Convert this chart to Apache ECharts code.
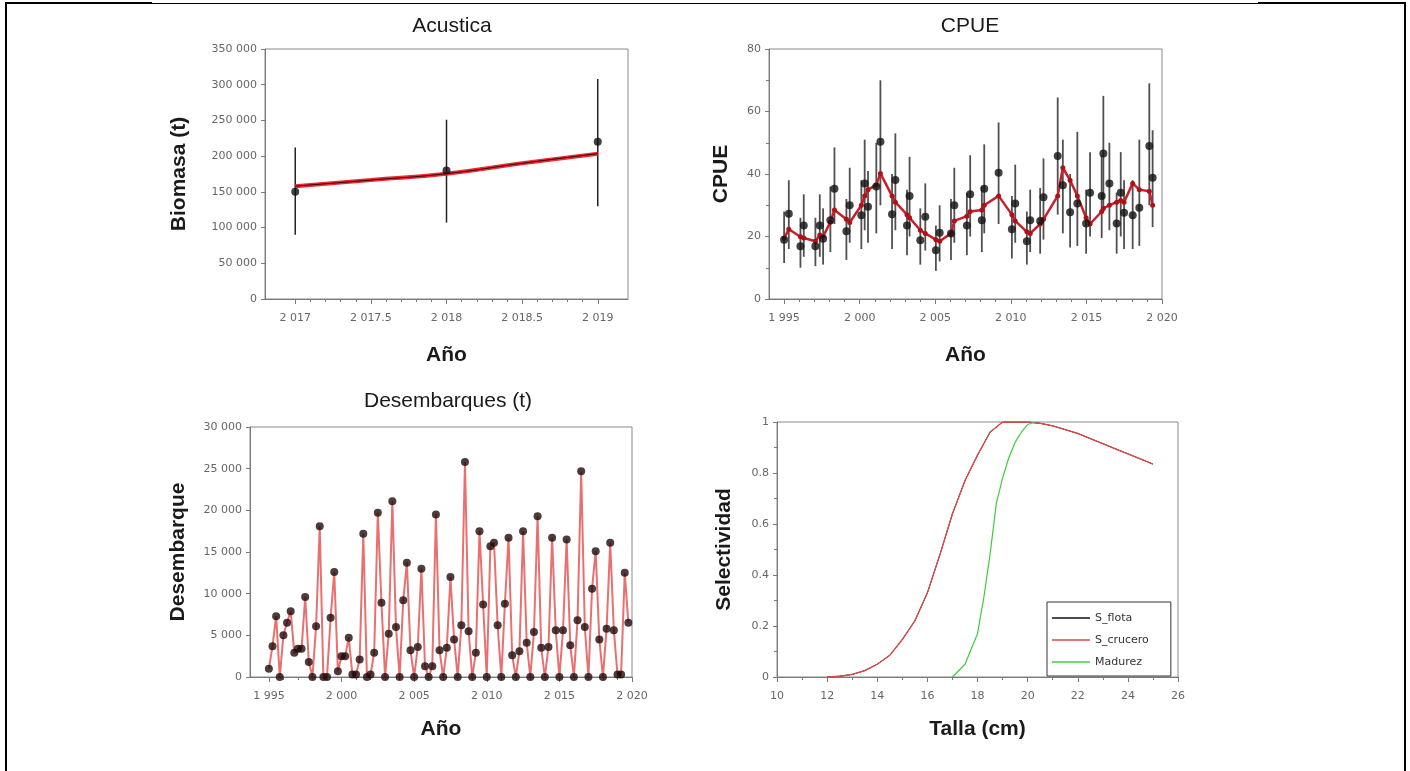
<!DOCTYPE html>
<html><head><meta charset="utf-8">
<script src="https://cdn.jsdelivr.net/npm/echarts@6/dist/echarts.min.js"></script>
<style>html,body{margin:0;padding:0;background:#fff}#c{width:1410px;height:771px}</style>
</head><body><div id="c"></div><script>
// ---------- Acustica ----------
const acYears = [2017, 2018, 2019];
const acBiomasa = [150000, 180000, 220000];
const acLow = [90000, 107000, 130000];
const acHigh = [212000, 251000, 308000];
const acFitYears = [2017, 2017.5, 2018, 2018.5, 2019];
const acFit = [158000, 166500, 175500, 190000, 203500];

// ---------- CPUE ----------
const cpueYear = [1995.00,1995.31,1996.08,1996.30,1997.07,1997.36,1997.58,1998.06,1998.33,1999.12,1999.34,2000.11,2000.33,2000.55,2001.10,2001.37,2002.14,2002.36,2003.13,2003.30,2004.01,2004.34,2005.04,2005.29,2006.04,2006.26,2007.09,2007.31,2008.08,2008.24,2009.19,2010.07,2010.29,2011.06,2011.28,2011.94,2012.16,2013.10,2013.44,2013.92,2014.40,2014.98,2015.24,2016.01,2016.12,2016.52,2017.00,2017.27,2017.49,2018.06,2018.50,2019.16,2019.38];
const cpueObs = [19.0,27.3,16.9,23.5,16.9,23.5,19.3,25.2,35.3,21.7,30.0,26.8,37.0,29.5,36.0,50.3,27.1,38.1,23.5,33.0,18.8,26.3,15.6,21.2,21.0,30.0,23.5,33.5,25.2,35.3,40.4,22.3,30.6,18.5,25.2,25.0,32.6,45.8,36.4,27.8,30.6,24.2,34.0,33.0,46.6,37.0,24.2,34.0,27.6,26.8,29.2,49.0,38.8];
const cpueLow = [11.5,16.0,10.0,13.5,10.5,13.5,11.0,15.0,24.0,12.5,18.0,16.0,22.0,18.0,21.0,30.0,16.0,22.0,14.0,20.0,11.0,15.5,9.0,12.0,12.5,18.0,14.0,20.0,15.0,21.0,24.0,13.0,18.0,11.0,15.0,14.5,19.0,27.0,21.0,16.5,17.0,14.5,20.0,19.5,28.0,22.0,14.5,20.0,16.0,16.0,17.0,30.0,23.0];
const cpueHigh = [28.0,38.0,26.0,33.5,26.0,33.5,29.0,36.0,48.5,32.0,42.0,38.0,51.0,41.0,50.0,70.0,40.0,53.0,35.0,45.5,29.0,37.0,23.5,30.0,32.0,42.0,34.0,46.0,36.0,49.5,56.5,33.0,43.0,28.0,35.0,35.5,45.0,64.5,51.0,40.0,53.5,35.0,47.0,46.0,65.0,50.0,34.0,47.0,38.0,38.0,51.0,69.0,54.0];
const cpueFit = [19.5,22.3,19.9,19.5,18.5,20.5,20.0,24.6,28.5,25.5,24.5,30.0,33.0,35.0,36.5,40.2,33.0,31.0,27.0,26.0,22.0,21.0,19.0,18.5,21.0,25.0,26.5,28.0,28.5,30.0,33.0,27.0,25.0,21.5,21.0,24.0,25.5,33.0,42.0,38.0,33.0,26.0,24.0,28.0,29.0,30.0,31.0,31.5,31.0,37.0,35.0,34.5,30.0];

// ---------- Desembarques (quarterly, from 1995.00 by 0.25) ----------
const deseStart = 1995;
const deseStep = 0.25;
const deseVal = [
 1000,3700,7300,0,      5000,6500,7900,2900,   3400,3400,9600,1800,   0,6100,18100,0,
 0,7100,12600,700,      2500,2500,4700,300,    300,2100,17200,0,      300,2900,19700,8900,
 0,5200,21100,6000,     0,9200,13700,3200,     0,3600,13000,1300,     0,1300,19500,3200,
 0,3500,12000,4500,     0,6200,25800,5500,     0,2900,17500,8700,     0,15700,16100,6200,
 0,8800,16700,2600,     0,3100,17500,4100,     0,5400,19300,3500,     0,3600,16700,5600,
 0,5600,16500,3800,     0,6800,24700,6000,     0,10600,15100,4500,    0,5800,16100,5600,
 300,300,12500,6500
];

// ---------- Selectividad ----------
const selTalla = [12,12.5,13,13.5,14,14.5,15,15.5,16,16.5,17,17.5,18,18.5,19,19.5,20,20.5,21,21.5,22,22.5,23,23.5,24,24.5,25];
const selFlota = [0,0.003,0.01,0.025,0.05,0.085,0.147,0.22,0.33,0.48,0.64,0.77,0.87,0.96,1.0,1.0,1.0,0.995,0.985,0.97,0.955,0.935,0.915,0.895,0.875,0.855,0.835];
const selCrucero = [0,0.003,0.01,0.025,0.05,0.085,0.147,0.22,0.33,0.48,0.64,0.77,0.87,0.96,1.0,1.0,1.0,0.995,0.985,0.97,0.955,0.935,0.915,0.895,0.875,0.855,0.835];
const madTalla = [17,17.5,18,18.25,18.5,18.75,19,19.25,19.5,19.75,20,20.3];
const madurez = [0,0.05,0.17,0.31,0.48,0.68,0.78,0.86,0.92,0.96,0.99,1.0];

// ---------- helpers ----------
function fmt(v){
  let s = String(Math.round(v*1000)/1000);
  let parts = s.split('.');
  let ip = parts[0].replace(/\B(?=(\d{3})+(?!\d))/g, ' ');
  return ip + (parts[1] ? '.' + parts[1] : '');
}
const tickFont = {fontFamily:'DejaVu Sans', fontSize:11, color:'#666'};
const nameFont = {fontFamily:'Liberation Sans', fontSize:21, fontWeight:'bold', color:'#1a1a1a'};
const axisCol = '#7a7a7a';
function errRender(color, w){
  return function(params, api){
    const x = api.value(0), lo = api.value(1), hi = api.value(2);
    const p1 = api.coord([x, lo]), p2 = api.coord([x, hi]);
    return {type:'line', shape:{x1:p1[0], y1:p1[1], x2:p2[0], y2:p2[1]}, style:{stroke:color, lineWidth:w}};
  };
}
function mainX(grid, min, max, name, gap){
  return {type:'value', gridIndex:grid, min:min, max:max,
    axisLine:{show:true, lineStyle:{color:axisCol}}, axisTick:{show:false}, axisLabel:{show:false},
    splitLine:{show:false}, name:name, nameLocation:'middle', nameGap:gap, nameTextStyle:nameFont};
}
function tickX(grid, min, max, interval, split){
  return {type:'value', gridIndex:grid, min:min, max:max, interval:interval,
    axisLine:{show:false}, axisTick:{show:true, length:5, lineStyle:{color:axisCol}},
    minorTick:{show:true, splitNumber:split, length:3, lineStyle:{color:axisCol}},
    axisLabel:Object.assign({formatter:fmt, margin:14}, tickFont), splitLine:{show:false}};
}
function mainY(grid, min, max, interval, name, gap, minor, formatter){
  return {type:'value', gridIndex:grid, min:min, max:max, interval:interval,
    axisLine:{show:true, lineStyle:{color:axisCol}}, axisTick:{show:true, length:4, lineStyle:{color:axisCol}},
    minorTick:{show:!!minor, splitNumber:minor||5, length:3, lineStyle:{color:axisCol}},
    axisLabel:Object.assign({formatter:formatter||fmt, margin:8}, tickFont), splitLine:{show:false},
    name:name, nameLocation:'middle', nameGap:gap, nameTextStyle:nameFont};
}
function hiddenY(grid){ return {type:'value', gridIndex:grid, show:false, min:0, max:1}; }

const gb = {show:true, borderColor:'#8a8a8a', borderWidth:1, backgroundColor:'transparent'};
const deseTime = deseVal.map((v,i)=>deseStart + i*deseStep);
const titleFont = {fontFamily:'Liberation Sans', fontSize:21, fontWeight:'normal', color:'#1a1a1a'};

const chart = echarts.init(document.getElementById('c'));
chart.setOption({
  animation:false,
  backgroundColor:'#fff',
  title:[
    {text:'Acustica', left:447, top:11, textAlign:'center', textStyle:titleFont},
    {text:'CPUE', left:965, top:11, textAlign:'center', textStyle:titleFont},
    {text:'Desembarques (t)', left:443, top:386, textAlign:'center', textStyle:titleFont}
  ],
  grid:[
    Object.assign({left:265, top:49, width:363, height:250}, gb),
    {show:false, left:295.25, top:49, width:302.5, height:250},
    Object.assign({left:769, top:49, width:393, height:250}, gb),
    {show:false, left:784.115, top:49, width:377.885, height:250},
    Object.assign({left:250, top:427, width:382, height:250}, gb),
    {show:false, left:268.88, top:427, width:363.12, height:250},
    Object.assign({left:777, top:422, width:401, height:255}, gb)
  ],
  xAxis:[
    mainX(0, 2016.8, 2019.2, 'Año', 46),
    tickX(1, 2017, 2019, 0.5, 5),
    mainX(2, 1994, 2020, 'Año', 46),
    tickX(3, 1995, 2020, 5, 5),
    mainX(4, 1993.7, 2020, 'Año', 42),
    tickX(5, 1995, 2020, 5, 5),
    Object.assign(tickX(6, 10, 26, 2, 2), {axisLine:{show:true, lineStyle:{color:axisCol}}, name:'Talla (cm)', nameLocation:'middle', nameGap:42, nameTextStyle:nameFont})
  ],
  yAxis:[
    mainY(0, 0, 350000, 50000, 'Biomasa (t)', 75),
    hiddenY(1),
    mainY(2, 0, 80, 20, 'CPUE', 37, 2),
    hiddenY(3),
    mainY(4, 0, 30000, 5000, 'Desembarque', 61),
    hiddenY(5),
    mainY(6, 0, 1, 0.2, 'Selectividad', 42, 2, v=>String(Math.round(v*10)/10))
  ],
  legend:{
    orient:'vertical', left:1047, top:602, icon:'rect', itemWidth:38, itemHeight:1.5, itemGap:8,
    padding:[9,22,7,5], borderColor:'#333', borderWidth:1, backgroundColor:'#fff',
    textStyle:{fontFamily:'DejaVu Sans', fontSize:11, color:'#333', lineHeight:14},
    data:['S_flota','S_crucero','Madurez']
  },
  series:[
    // Acustica
    {type:'custom', xAxisIndex:0, yAxisIndex:0, renderItem:errRender('#222', 1.5), encode:{x:0, y:[1,2]},
      data:acYears.map((x,i)=>[x, acLow[i], acHigh[i]]), z:2},
    {type:'line', xAxisIndex:0, yAxisIndex:0, smooth:true, symbol:'none', lineStyle:{color:'#ec2a34', width:4}, z:3,
      data:acFitYears.map((x,i)=>[x, acFit[i]])},
    {type:'line', xAxisIndex:0, yAxisIndex:0, smooth:true, symbol:'none', lineStyle:{color:'#3a0000', width:1}, z:4,
      data:acFitYears.map((x,i)=>[x, acFit[i]])},
    {type:'scatter', xAxisIndex:0, yAxisIndex:0, symbolSize:8, itemStyle:{color:'#111'}, z:5,
      data:acYears.map((x,i)=>[x, acBiomasa[i]])},
    // CPUE
    {type:'custom', xAxisIndex:2, yAxisIndex:2, renderItem:errRender('#505050', 1.8), encode:{x:0, y:[1,2]},
      data:cpueYear.map((x,i)=>[x, cpueLow[i], cpueHigh[i]]), z:2},
    {type:'line', xAxisIndex:2, yAxisIndex:2, symbol:'circle', symbolSize:5, lineStyle:{color:'#c8202a', width:2.5},
      itemStyle:{color:'#b01018'}, z:3, data:cpueYear.map((x,i)=>[x, cpueFit[i]])},
    {type:'scatter', xAxisIndex:2, yAxisIndex:2, symbolSize:8, itemStyle:{color:'#111'}, z:4,
      data:cpueYear.map((x,i)=>[x, cpueObs[i]])},
    // Desembarques
    {type:'line', xAxisIndex:4, yAxisIndex:4, symbol:'none', lineStyle:{color:'#e87070', width:2}, z:3,
      data:deseTime.map((x,i)=>[x, deseVal[i]])},
    {type:'scatter', xAxisIndex:4, yAxisIndex:4, symbolSize:8, itemStyle:{color:'#220a0a'}, z:4,
      data:deseTime.map((x,i)=>[x, deseVal[i]])},
    // Selectividad
    {name:'S_flota', type:'line', xAxisIndex:6, yAxisIndex:6, symbol:'none', lineStyle:{color:'#111', width:1}, itemStyle:{color:'#111'},
      data:selTalla.map((x,i)=>[x, selFlota[i]])},
    {name:'S_crucero', type:'line', xAxisIndex:6, yAxisIndex:6, symbol:'none', lineStyle:{color:'#e04848', width:1.3}, itemStyle:{color:'#e04848'},
      data:selTalla.map((x,i)=>[x, selCrucero[i]])},
    {name:'Madurez', type:'line', xAxisIndex:6, yAxisIndex:6, symbol:'none', lineStyle:{color:'#3ccf3c', width:1.2}, itemStyle:{color:'#3ccf3c'},
      data:madTalla.map((x,i)=>[x, madurez[i]])}
  ],
  graphic:[
    {type:'rect', shape:{x:5, y:2, width:2, height:769}, style:{fill:'#000'}, silent:true},
    {type:'rect', shape:{x:5, y:2, width:147, height:2}, style:{fill:'#000'}, silent:true},
    {type:'rect', shape:{x:152, y:3, width:1106, height:1}, style:{fill:'#000'}, silent:true},
    {type:'rect', shape:{x:1258, y:2, width:148, height:2}, style:{fill:'#000'}, silent:true},
    {type:'rect', shape:{x:1404, y:2, width:2, height:769}, style:{fill:'#000'}, silent:true}
  ]
});
</script></body></html>
